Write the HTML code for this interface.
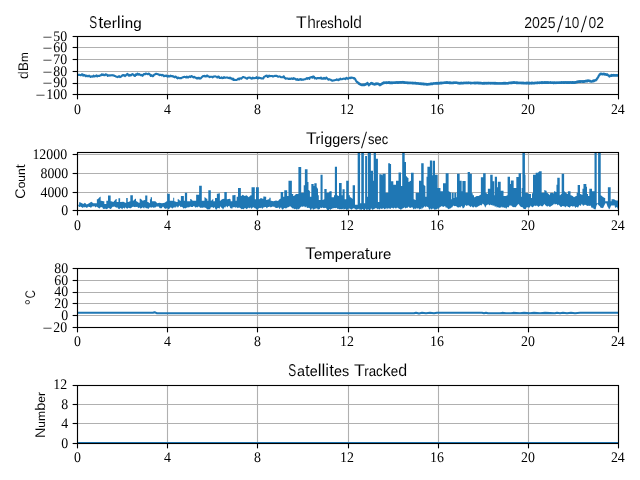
<!DOCTYPE html>
<html><head><meta charset="utf-8"><title>Sterling Threshold 2025/10/02</title>
<style>
html,body{margin:0;padding:0;background:#fff;}
svg{display:block;}
text{text-rendering:geometricPrecision;}
.t{font-family:"Liberation Sans",sans-serif;font-size:16.6px;fill:#000;stroke:#fff;stroke-width:0.12px;}
.yl{font-family:"Liberation Sans",sans-serif;font-size:13.5px;fill:#000;stroke:#fff;stroke-width:0.1px;}
.k{font-family:"Liberation Serif",serif;font-size:14.6px;fill:#000;}
.g{stroke:#b0b0b0;stroke-width:1.11;fill:none;}
.s{stroke:#000;stroke-width:1.11;fill:none;stroke-linecap:square;}
.tk{stroke:#000;stroke-width:1.11;fill:none;}
.d{stroke:#1f77b4;stroke-width:2.08;fill:none;stroke-linejoin:round;stroke-linecap:square;}
</style></head><body>
<svg width="640" height="480" viewBox="0 0 640 480">
<rect width="640" height="480" fill="#fff"/>
<defs>
<clipPath id="c0"><rect x="77.5" y="36.5" width="541.0" height="58.0"/></clipPath>
<clipPath id="c1"><rect x="77.5" y="152.5" width="541.0" height="58.0"/></clipPath>
<clipPath id="c2"><rect x="77.5" y="268.5" width="541.0" height="59.0"/></clipPath>
<clipPath id="c3"><rect x="77.5" y="385.5" width="541.0" height="58.0"/></clipPath>
</defs>
<path class="g" d="M77.50 36.5V94.5"/>
<path class="g" d="M167.50 36.5V94.5"/>
<path class="g" d="M257.50 36.5V94.5"/>
<path class="g" d="M348.50 36.5V94.5"/>
<path class="g" d="M438.50 36.5V94.5"/>
<path class="g" d="M528.50 36.5V94.5"/>
<path class="g" d="M618.50 36.5V94.5"/>
<path class="g" d="M77.5 36.50H618.5"/>
<path class="g" d="M77.5 47.50H618.5"/>
<path class="g" d="M77.5 59.50H618.5"/>
<path class="g" d="M77.5 71.50H618.5"/>
<path class="g" d="M77.5 83.50H618.5"/>
<path class="g" d="M77.5 94.50H618.5"/>
<path class="d" clip-path="url(#c0)" d="M77.75 74.63 L78.54 75.06 L79.33 74.82 L80.12 75.15 L80.92 75.18 L81.71 74.39 L82.50 74.32 L83.25 75.60 L84.00 74.91 L84.75 75.00 L85.50 76.19 L86.25 75.58 L86.98 76.22 L87.71 75.84 L88.44 76.19 L89.17 75.64 L89.90 76.44 L90.62 76.89 L91.35 76.37 L92.08 76.63 L92.81 76.49 L93.54 75.60 L94.27 76.53 L95.00 76.25 L95.75 75.77 L96.50 75.32 L97.25 76.41 L98.00 75.79 L98.75 76.06 L99.53 75.94 L100.31 75.36 L101.09 75.31 L101.88 74.23 L102.60 74.90 L103.33 74.51 L104.06 75.30 L104.79 75.32 L105.52 74.33 L106.25 74.49 L107.00 74.70 L107.75 75.85 L108.50 75.21 L109.25 75.58 L110.00 75.22 L110.75 75.46 L111.50 75.24 L112.25 75.14 L113.00 75.42 L113.75 75.37 L114.50 76.07 L115.25 76.00 L116.00 76.60 L116.75 76.75 L117.50 77.19 L118.33 76.78 L119.17 76.11 L120.00 77.13 L120.83 76.73 L121.67 76.11 L122.50 75.10 L123.33 75.51 L124.17 75.01 L125.00 76.09 L125.83 75.35 L126.67 74.57 L127.50 73.89 L128.33 75.29 L129.17 75.77 L130.00 74.80 L130.83 75.50 L131.67 74.67 L132.50 74.01 L133.33 74.54 L134.17 75.54 L135.00 76.02 L135.83 74.45 L136.67 74.83 L137.50 73.61 L138.33 74.56 L139.17 74.01 L140.00 74.78 L140.83 75.21 L141.67 74.84 L142.50 75.82 L143.33 74.57 L144.17 73.95 L145.00 74.39 L145.75 73.54 L146.50 73.73 L147.25 73.97 L148.00 74.20 L148.75 73.52 L150.00 74.61 L150.78 75.86 L151.56 75.18 L152.34 76.17 L153.12 76.18 L153.91 74.92 L154.69 74.51 L155.47 74.06 L156.25 73.70 L157.08 73.93 L157.92 74.17 L158.75 74.54 L159.50 75.17 L160.25 74.73 L161.00 74.80 L161.75 75.38 L162.50 74.88 L163.21 75.15 L163.93 76.28 L164.64 75.82 L165.36 76.03 L166.07 75.46 L166.79 76.20 L167.50 76.61 L168.23 75.74 L168.96 76.50 L169.69 76.44 L170.42 75.55 L171.15 76.26 L171.88 75.95 L172.60 76.50 L173.33 76.29 L174.06 77.04 L174.79 77.33 L175.52 76.58 L176.25 76.88 L176.96 77.87 L177.68 78.40 L178.39 77.53 L179.11 77.94 L179.82 78.25 L180.54 78.00 L181.25 78.18 L182.08 77.65 L182.92 77.28 L183.75 77.13 L184.50 76.77 L185.25 76.93 L186.00 77.53 L186.75 76.54 L187.50 77.35 L188.25 77.43 L189.00 76.68 L189.75 76.41 L190.50 77.08 L191.25 76.13 L192.00 76.31 L192.75 76.91 L193.50 77.53 L194.25 76.94 L195.00 77.50 L195.71 77.61 L196.43 78.40 L197.14 77.93 L197.86 78.60 L198.57 77.73 L199.29 78.06 L200.00 78.59 L200.75 78.49 L201.50 77.46 L202.25 76.72 L203.00 76.14 L203.75 76.29 L204.50 75.74 L205.25 76.53 L206.00 76.50 L206.75 75.51 L207.50 75.57 L208.25 76.58 L209.00 76.62 L209.75 77.13 L210.50 76.76 L211.25 76.73 L212.00 76.81 L212.75 77.36 L213.50 76.48 L214.25 76.43 L215.00 76.38 L215.75 76.54 L216.50 76.67 L217.25 77.54 L218.00 76.62 L218.75 76.56 L219.50 77.92 L220.25 77.88 L221.00 78.08 L221.75 77.36 L222.50 78.13 L223.25 78.05 L224.00 77.01 L224.75 77.69 L225.50 77.77 L226.25 77.48 L227.03 77.59 L227.81 77.58 L228.59 77.96 L229.38 78.12 L230.00 77.52 L230.75 78.50 L231.50 78.33 L232.25 79.31 L233.00 78.49 L233.75 79.94 L234.50 79.65 L235.25 79.97 L236.00 79.93 L236.75 79.93 L237.50 79.48 L238.25 78.52 L239.00 79.37 L239.75 78.39 L240.50 78.39 L241.25 78.73 L242.08 77.87 L242.92 77.05 L243.75 77.11 L244.58 77.41 L245.42 77.78 L246.25 78.40 L247.08 78.76 L247.92 77.72 L248.75 77.65 L249.58 77.46 L250.42 77.66 L251.25 78.55 L252.00 78.74 L252.75 77.64 L253.50 78.31 L254.25 78.29 L255.00 77.93 L255.75 78.08 L256.50 77.06 L257.25 78.06 L258.00 78.51 L258.75 77.49 L259.50 77.88 L260.25 77.95 L261.00 78.39 L261.75 78.32 L262.50 78.46 L263.25 78.44 L264.00 76.90 L264.75 76.53 L265.50 76.18 L266.25 75.72 L266.96 75.65 L267.68 76.91 L268.39 76.75 L269.11 75.67 L269.82 76.25 L270.54 75.99 L271.25 75.99 L272.03 76.04 L272.81 76.46 L273.59 76.37 L274.38 76.06 L275.16 75.82 L275.94 76.01 L276.72 75.72 L277.50 76.33 L278.25 76.80 L279.00 76.58 L279.75 76.41 L280.50 76.80 L281.25 77.32 L282.08 77.31 L282.92 77.23 L283.75 76.33 L284.69 77.92 L285.62 78.67 L286.35 78.45 L287.08 78.40 L287.81 78.62 L288.54 78.95 L289.27 78.60 L290.00 79.02 L290.71 78.70 L291.43 78.39 L292.14 78.80 L292.86 79.02 L293.57 78.15 L294.29 78.64 L295.00 78.65 L295.71 79.42 L296.43 79.65 L297.14 79.00 L297.86 79.88 L298.57 79.87 L299.29 79.27 L300.00 79.70 L300.75 79.07 L301.50 79.89 L302.25 79.53 L303.00 79.69 L303.75 79.41 L304.45 79.17 L305.16 79.20 L305.86 78.90 L306.56 78.19 L307.27 78.81 L307.97 77.93 L308.67 78.06 L309.38 78.88 L310.00 77.49 L310.78 77.24 L311.56 76.94 L312.34 77.72 L313.12 76.43 L313.96 76.75 L314.79 78.44 L315.62 77.97 L316.46 78.65 L317.29 78.08 L318.12 77.97 L318.85 78.30 L319.58 77.94 L320.31 78.42 L321.04 77.52 L321.77 78.71 L322.50 78.52 L323.25 78.73 L324.00 77.80 L324.75 78.62 L325.50 78.81 L326.25 77.51 L327.00 78.25 L327.75 78.96 L328.50 79.71 L329.25 79.26 L330.00 79.55 L330.75 79.77 L331.50 80.41 L332.25 80.73 L333.00 80.35 L333.75 80.44 L334.50 80.31 L335.25 80.07 L336.00 79.99 L336.75 79.34 L337.50 79.75 L338.21 80.27 L338.93 79.34 L339.64 79.67 L340.36 78.70 L341.07 79.30 L341.79 79.25 L342.50 78.99 L343.21 78.72 L343.93 78.62 L344.64 78.79 L345.36 79.09 L346.07 77.99 L346.79 77.86 L347.50 78.72 L348.33 78.75 L349.17 77.98 L350.00 77.67 L350.73 78.16 L351.46 77.52 L352.19 77.74 L352.92 77.75 L353.65 78.39 L354.38 78.12 L355.12 78.95 L355.88 80.54 L356.62 81.86 L357.38 81.89 L358.12 82.74 L358.54 83.65 L358.96 83.12 L359.38 84.11 L359.79 83.67 L360.21 84.44 L360.62 84.14 L361.04 84.92 L361.46 84.48 L361.88 85.26 L362.32 84.66 L362.77 85.23 L363.21 84.49 L363.66 85.11 L364.11 84.37 L364.55 85.12 L365.00 84.39 L365.42 84.81 L365.83 83.80 L366.25 84.35 L366.67 83.32 L367.08 83.73 L367.50 82.74 L367.92 84.17 L368.33 84.06 L368.75 85.39 L369.17 84.25 L369.58 84.71 L370.00 83.79 L370.42 84.03 L370.83 83.05 L371.25 83.50 L371.70 82.86 L372.14 83.90 L372.59 83.38 L373.04 84.11 L373.48 83.73 L373.93 84.46 L374.38 83.99 L374.82 84.67 L375.27 83.70 L375.71 84.28 L376.16 83.46 L376.61 84.05 L377.05 83.30 L377.50 83.89 L377.92 83.51 L378.33 84.25 L378.75 83.84 L379.17 84.79 L379.58 84.44 L380.00 85.36 L380.42 84.37 L380.83 84.73 L381.25 83.95 L381.67 84.32 L382.08 83.42 L382.50 83.77 L382.92 82.89 L383.33 83.44 L383.75 82.44 L384.15 83.08 L384.55 82.46 L384.96 82.98 L385.36 82.30 L385.76 82.91 L386.16 82.22 L386.56 83.05 L386.96 82.36 L387.37 83.03 L387.77 82.26 L388.17 82.95 L388.57 82.14 L388.97 82.81 L389.38 82.12 L390.00 83.25 L390.42 82.44 L390.83 83.11 L391.25 82.41 L391.67 83.22 L392.08 82.37 L392.50 83.07 L392.92 82.45 L393.33 83.01 L393.75 82.35 L394.17 83.01 L394.58 82.22 L395.00 82.93 L395.42 82.28 L395.83 82.90 L396.25 82.13 L396.67 82.75 L397.08 82.04 L397.50 82.82 L397.92 82.18 L398.33 82.85 L398.75 82.14 L399.17 82.68 L399.58 81.98 L400.00 82.71 L400.42 81.98 L400.83 82.69 L401.25 81.97 L401.67 82.58 L402.08 82.00 L402.50 82.49 L402.92 81.91 L403.33 82.73 L403.75 82.03 L404.17 82.81 L404.58 82.15 L405.00 82.78 L405.42 82.23 L405.83 83.00 L406.25 82.39 L406.67 83.01 L407.08 82.43 L407.50 83.15 L407.92 82.49 L408.33 83.13 L408.75 82.56 L409.17 83.24 L409.58 82.51 L410.00 83.23 L410.42 82.53 L410.83 83.21 L411.25 82.69 L411.67 83.24 L412.08 82.76 L412.50 83.43 L412.92 82.65 L413.33 83.32 L413.75 82.81 L414.17 83.41 L414.58 82.72 L415.00 83.53 L415.42 82.77 L415.83 83.57 L416.25 82.99 L416.67 83.61 L417.08 83.06 L417.50 83.72 L417.92 83.06 L418.33 83.73 L418.75 83.22 L419.17 83.94 L419.58 83.35 L420.00 84.03 L420.42 83.24 L420.83 84.15 L421.25 83.44 L421.67 84.14 L422.08 83.48 L422.50 84.24 L422.92 83.47 L423.33 84.34 L423.75 83.71 L424.17 84.46 L424.58 83.75 L425.00 84.49 L425.42 83.78 L425.83 84.43 L426.25 83.85 L426.67 84.67 L427.08 84.00 L427.50 84.72 L427.92 83.99 L428.33 84.53 L428.75 83.86 L429.17 84.38 L429.58 83.75 L430.00 84.40 L430.42 83.64 L430.83 84.26 L431.25 83.41 L431.67 84.22 L432.08 83.48 L432.50 84.08 L432.92 83.25 L433.33 83.79 L433.75 83.19 L434.17 83.75 L434.58 83.21 L435.00 83.77 L435.42 82.97 L435.83 83.67 L436.25 82.93 L436.67 83.71 L437.08 83.04 L437.50 83.69 L437.92 82.89 L438.33 83.66 L438.75 82.81 L439.17 83.57 L439.58 82.85 L440.00 83.53 L440.42 82.65 L440.83 83.46 L441.25 82.68 L441.67 83.35 L442.08 82.58 L442.50 83.12 L442.92 82.60 L443.33 83.03 L443.75 82.48 L444.17 82.97 L444.58 82.33 L445.00 83.01 L445.42 82.24 L445.83 82.86 L446.25 82.13 L446.67 82.82 L447.08 82.22 L447.50 82.97 L447.92 82.28 L448.33 82.89 L448.75 82.22 L449.17 83.06 L449.58 82.39 L450.00 83.03 L450.42 82.41 L450.83 83.13 L451.25 82.52 L451.67 83.05 L452.08 82.58 L452.50 83.28 L452.92 82.56 L453.33 83.08 L453.75 82.42 L454.17 82.90 L454.58 82.30 L455.00 82.82 L455.42 82.30 L455.83 82.86 L456.25 82.44 L456.67 83.01 L457.08 82.48 L457.50 83.11 L457.92 82.71 L458.33 83.33 L458.75 82.75 L459.17 83.51 L459.58 82.95 L460.00 83.57 L460.42 82.90 L460.83 83.42 L461.25 82.71 L461.67 83.40 L462.08 82.85 L462.50 83.39 L462.92 82.77 L463.33 83.37 L463.75 82.67 L464.17 83.19 L464.58 82.67 L465.00 83.26 L465.44 82.58 L465.88 83.25 L466.31 82.51 L466.75 83.26 L467.19 82.52 L467.62 83.08 L468.06 82.50 L468.50 83.18 L468.94 82.40 L469.38 83.05 L470.00 82.88 L470.42 83.49 L470.83 82.65 L471.25 83.43 L471.67 82.83 L472.08 83.27 L472.50 82.78 L472.92 83.27 L473.33 82.76 L473.75 83.21 L474.17 82.59 L474.58 83.37 L475.00 82.65 L475.42 83.35 L475.83 82.56 L476.25 83.28 L476.67 82.47 L477.08 83.36 L477.50 82.72 L477.92 83.27 L478.33 82.64 L478.75 83.46 L479.17 82.81 L479.58 83.37 L480.00 82.68 L480.42 83.38 L480.83 82.84 L481.25 83.48 L481.67 82.82 L482.08 83.66 L482.50 82.99 L482.92 83.63 L483.33 82.84 L483.75 83.64 L484.17 82.87 L484.58 83.64 L485.00 82.89 L485.42 83.51 L485.83 82.91 L486.25 83.58 L486.67 82.83 L487.08 83.44 L487.50 82.89 L487.92 83.53 L488.33 82.77 L488.75 83.51 L489.17 82.82 L489.58 83.48 L490.00 82.89 L490.42 83.54 L490.83 82.94 L491.25 83.51 L491.67 82.79 L492.08 83.57 L492.50 82.95 L492.92 83.49 L493.33 82.80 L493.75 83.59 L494.17 82.81 L494.58 83.66 L495.00 82.92 L495.42 83.69 L495.83 82.88 L496.25 83.58 L496.67 82.98 L497.08 83.53 L497.50 82.99 L497.92 83.75 L498.33 83.07 L498.75 83.68 L499.17 83.08 L499.58 83.58 L500.00 82.98 L500.42 83.64 L500.83 83.13 L501.25 83.63 L501.67 83.00 L502.08 83.72 L502.50 83.12 L502.92 83.62 L503.33 82.89 L503.75 83.60 L504.17 82.97 L504.58 83.63 L505.00 82.90 L505.42 83.65 L505.83 82.88 L506.25 83.62 L506.67 83.00 L507.08 83.52 L507.50 83.01 L507.92 83.61 L508.33 82.90 L508.75 83.33 L509.17 82.61 L509.58 83.27 L510.00 82.52 L510.42 83.14 L510.83 82.52 L511.25 83.08 L511.67 82.34 L512.08 83.06 L512.50 82.28 L512.92 83.00 L513.33 82.13 L513.75 82.80 L514.17 82.16 L514.58 82.88 L515.00 82.33 L515.42 83.01 L515.83 82.27 L516.25 83.06 L516.67 82.40 L517.08 83.05 L517.50 82.40 L517.92 83.14 L518.33 82.53 L518.75 83.10 L519.17 82.49 L519.58 83.09 L520.00 82.53 L520.42 83.28 L520.83 82.59 L521.25 83.30 L521.67 82.58 L522.08 83.23 L522.50 82.67 L522.92 83.44 L523.33 82.71 L523.75 83.35 L524.17 82.80 L524.58 83.33 L525.00 82.81 L525.42 83.53 L525.83 82.72 L526.25 83.55 L526.67 82.68 L527.08 83.49 L527.50 82.69 L527.92 83.47 L528.33 82.81 L528.75 83.56 L529.17 82.70 L529.58 83.56 L530.00 82.79 L530.42 83.52 L530.83 82.81 L531.25 83.57 L531.67 82.69 L532.08 83.42 L532.50 82.69 L532.92 83.37 L533.33 82.83 L533.75 83.44 L534.17 82.73 L534.58 83.34 L535.00 82.61 L535.42 83.18 L535.83 82.53 L536.25 83.19 L536.67 82.55 L537.08 83.15 L537.50 82.43 L537.92 83.19 L538.33 82.49 L538.75 83.00 L539.17 82.44 L539.58 83.03 L540.00 82.46 L540.42 82.94 L540.83 82.27 L541.25 83.03 L541.67 82.19 L542.08 83.06 L542.50 82.18 L542.92 82.89 L543.33 82.31 L543.75 82.85 L544.17 82.20 L544.58 82.86 L545.00 82.15 L545.44 82.81 L545.88 82.08 L546.31 82.79 L546.75 82.17 L547.19 82.92 L547.62 82.09 L548.06 82.79 L548.50 82.22 L548.94 82.91 L549.38 82.27 L550.00 82.75 L550.42 82.17 L550.83 82.88 L551.25 82.29 L551.67 82.80 L552.08 82.31 L552.50 83.00 L552.92 82.29 L553.33 83.08 L553.75 82.25 L554.17 83.11 L554.58 82.45 L555.00 82.97 L555.42 82.49 L555.83 83.06 L556.25 82.45 L556.67 82.97 L557.08 82.37 L557.50 82.95 L557.92 82.39 L558.33 82.95 L558.75 82.24 L559.17 82.95 L559.58 82.33 L560.00 82.83 L560.42 82.26 L560.83 82.93 L561.25 82.17 L561.67 82.96 L562.08 82.11 L562.50 82.78 L562.92 82.24 L563.33 82.90 L563.75 82.10 L564.17 82.84 L564.58 82.09 L565.00 82.85 L565.42 82.21 L565.83 82.76 L566.25 82.27 L566.67 82.87 L567.08 82.07 L567.50 82.93 L567.92 82.17 L568.33 82.87 L568.75 82.07 L569.17 82.91 L569.58 82.14 L570.00 82.82 L570.42 82.16 L570.83 82.76 L571.25 82.23 L571.67 82.88 L572.08 82.05 L572.50 82.85 L572.92 82.18 L573.33 82.80 L573.75 82.17 L574.17 82.91 L574.58 82.17 L575.00 82.94 L575.42 82.13 L575.83 82.57 L576.25 81.82 L576.67 82.37 L577.08 81.53 L577.50 82.24 L577.92 81.29 L578.33 81.97 L578.75 81.27 L579.17 81.85 L579.58 81.15 L580.00 81.83 L580.42 81.21 L580.83 81.88 L581.25 81.07 L581.67 81.75 L582.08 81.12 L582.50 81.81 L582.92 81.16 L583.33 81.93 L583.75 81.06 L584.17 81.80 L584.58 81.09 L585.00 81.71 L585.42 80.94 L585.83 81.45 L586.25 80.65 L586.67 81.29 L587.08 80.63 L587.50 81.28 L587.92 80.33 L588.33 80.99 L588.75 80.31 L589.17 81.06 L589.58 80.66 L590.00 81.34 L590.42 80.76 L590.83 81.60 L591.25 81.22 L591.67 81.64 L592.08 81.01 L592.50 81.47 L592.92 80.61 L593.33 81.29 L593.75 80.38 L594.17 81.03 L594.58 80.27 L595.00 80.66 L595.42 79.81 L595.83 80.37 L596.25 79.71 L596.67 79.67 L597.08 78.38 L597.50 78.35 L597.92 77.10 L598.33 76.94 L598.75 75.56 L599.17 75.59 L599.58 74.24 L600.00 74.27 L600.42 73.55 L600.83 74.38 L601.25 73.63 L601.67 74.26 L602.08 73.76 L602.50 74.40 L602.92 73.74 L603.33 74.27 L603.75 73.59 L604.17 74.51 L604.58 73.93 L605.00 74.69 L605.42 73.99 L605.83 74.73 L606.25 74.25 L606.67 74.90 L607.08 74.22 L607.50 75.04 L607.97 74.87 L608.44 75.76 L608.91 75.62 L609.38 76.55 L609.84 75.60 L610.31 76.05 L610.78 75.33 L611.25 75.81 L611.65 74.93 L612.06 75.82 L612.46 75.09 L612.86 75.68 L613.26 74.94 L613.67 75.71 L614.07 74.99 L614.47 75.67 L614.88 75.15 L615.28 75.68 L615.68 74.98 L616.08 75.78 L616.49 75.02 L616.89 75.70 L617.29 75.03 L617.69 75.70 L618.10 75.03 L618.50 75.38"/>
<path class="tk" d="M77.50 94.5v4.86"/>
<text class="k" x="77.40" y="113.70" text-anchor="middle" textLength="6.94" lengthAdjust="spacingAndGlyphs">0</text>
<path class="tk" d="M167.50 94.5v4.86"/>
<text class="k" x="167.40" y="113.70" text-anchor="middle" textLength="6.94" lengthAdjust="spacingAndGlyphs">4</text>
<path class="tk" d="M257.50 94.5v4.86"/>
<text class="k" x="257.40" y="113.70" text-anchor="middle" textLength="6.94" lengthAdjust="spacingAndGlyphs">8</text>
<path class="tk" d="M348.50 94.5v4.86"/>
<text class="k" x="346.90" y="113.70" text-anchor="middle" textLength="13.88" lengthAdjust="spacingAndGlyphs">12</text>
<path class="tk" d="M438.50 94.5v4.86"/>
<text class="k" x="436.90" y="113.70" text-anchor="middle" textLength="13.88" lengthAdjust="spacingAndGlyphs">16</text>
<path class="tk" d="M528.50 94.5v4.86"/>
<text class="k" x="528.00" y="113.70" text-anchor="middle" textLength="13.88" lengthAdjust="spacingAndGlyphs">20</text>
<path class="tk" d="M618.50 94.5v4.86"/>
<text class="k" x="617.85" y="113.70" text-anchor="middle" textLength="13.88" lengthAdjust="spacingAndGlyphs">24</text>
<path class="tk" d="M77.5 36.50h-4.86"/>
<text class="k"><tspan x="42.52" y="41.85" textLength="9.90" lengthAdjust="spacingAndGlyphs">−</tspan><tspan x="53.22" y="40.85" textLength="13.88" lengthAdjust="spacingAndGlyphs">50</tspan></text>
<path class="tk" d="M77.5 47.50h-4.86"/>
<text class="k"><tspan x="42.52" y="52.85" textLength="9.90" lengthAdjust="spacingAndGlyphs">−</tspan><tspan x="53.22" y="51.85" textLength="13.88" lengthAdjust="spacingAndGlyphs">60</tspan></text>
<path class="tk" d="M77.5 59.50h-4.86"/>
<text class="k"><tspan x="42.52" y="64.85" textLength="9.90" lengthAdjust="spacingAndGlyphs">−</tspan><tspan x="53.22" y="63.85" textLength="13.88" lengthAdjust="spacingAndGlyphs">70</tspan></text>
<path class="tk" d="M77.5 71.50h-4.86"/>
<text class="k"><tspan x="42.52" y="76.85" textLength="9.90" lengthAdjust="spacingAndGlyphs">−</tspan><tspan x="53.22" y="75.85" textLength="13.88" lengthAdjust="spacingAndGlyphs">80</tspan></text>
<path class="tk" d="M77.5 83.50h-4.86"/>
<text class="k"><tspan x="42.52" y="87.85" textLength="9.90" lengthAdjust="spacingAndGlyphs">−</tspan><tspan x="53.22" y="86.85" textLength="13.88" lengthAdjust="spacingAndGlyphs">90</tspan></text>
<path class="tk" d="M77.5 94.50h-4.86"/>
<text class="k"><tspan x="35.58" y="99.85" textLength="9.90" lengthAdjust="spacingAndGlyphs">−</tspan><tspan x="46.28" y="98.85" textLength="20.82" lengthAdjust="spacingAndGlyphs">100</tspan></text>
<rect class="s" x="77.5" y="36.5" width="541.0" height="58.0"/>
<path class="g" d="M77.50 152.5V210.5"/>
<path class="g" d="M167.50 152.5V210.5"/>
<path class="g" d="M257.50 152.5V210.5"/>
<path class="g" d="M348.50 152.5V210.5"/>
<path class="g" d="M438.50 152.5V210.5"/>
<path class="g" d="M528.50 152.5V210.5"/>
<path class="g" d="M618.50 152.5V210.5"/>
<path class="g" d="M77.5 210.50H618.5"/>
<path class="g" d="M77.5 192.50H618.5"/>
<path class="g" d="M77.5 173.50H618.5"/>
<path class="g" d="M77.5 154.50H618.5"/>
<path fill="#1f77b4" clip-path="url(#c1)" d="M78.27 204.67 L79.13 204.67 L79.13 202.27 L80.00 202.27 L82.00 203.33 L83.33 204.00 L84.93 202.67 L86.67 204.40 L88.67 203.60 L91.33 201.73 L93.33 203.33 L96.00 203.33 L96.87 203.33 L96.87 199.33 L97.73 199.33 L100.00 196.67 L100.67 196.67 L100.67 200.67 L101.33 200.67 L103.33 201.33 L104.33 201.33 L104.33 204.00 L105.33 204.00 L106.33 204.00 L106.33 200.67 L107.33 200.67 L108.00 200.67 L108.00 195.60 L108.67 195.60 L110.00 195.60 L110.67 195.60 L110.67 201.33 L111.33 201.33 L113.33 202.00 L116.00 199.07 L116.67 199.07 L116.67 202.00 L117.33 202.00 L118.47 202.00 L118.47 198.27 L119.60 198.27 L120.13 198.27 L120.13 202.00 L120.67 202.00 L123.33 201.73 L125.33 202.67 L126.20 202.67 L126.20 198.00 L127.07 198.00 L127.73 198.00 L127.73 202.00 L128.40 202.00 L130.00 201.33 L130.33 201.33 L130.33 195.33 L130.67 195.33 L132.40 195.33 L132.87 195.33 L132.87 200.67 L133.33 200.67 L135.33 198.67 L136.00 198.67 L136.00 201.33 L136.67 201.33 L138.67 202.67 L139.67 202.67 L139.67 198.67 L140.67 198.67 L142.67 200.67 L144.67 200.00 L145.20 200.00 L145.20 195.60 L145.73 195.60 L146.67 195.60 L147.33 195.60 L147.33 202.00 L148.00 202.00 L149.87 203.33 L149.93 203.33 L149.93 199.33 L150.00 199.33 L150.67 199.33 L150.67 197.33 L151.33 197.33 L152.00 197.33 L152.00 201.33 L152.67 201.33 L155.33 201.33 L157.33 203.33 L159.33 202.67 L162.00 203.33 L164.67 202.67 L166.67 201.33 L167.13 201.33 L167.13 193.73 L167.60 193.73 L169.33 193.73 L169.80 193.73 L169.80 200.67 L170.27 200.67 L172.67 200.67 L173.20 200.67 L173.20 197.73 L173.73 197.73 L174.20 197.73 L174.20 201.33 L174.67 201.33 L176.67 202.00 L177.67 202.00 L177.67 199.33 L178.67 199.33 L180.00 200.67 L180.87 200.67 L180.87 196.00 L181.73 196.00 L183.33 196.00 L183.87 196.00 L183.87 200.67 L184.40 200.67 L184.87 200.67 L184.87 192.67 L185.33 192.67 L186.67 192.67 L187.13 192.67 L187.13 201.33 L187.60 201.33 L189.33 201.33 L190.20 201.33 L190.20 199.07 L191.07 199.07 L192.67 200.67 L195.33 200.67 L196.13 200.67 L196.13 194.67 L196.93 194.67 L198.67 194.67 L199.13 194.67 L199.13 185.73 L199.60 185.73 L201.33 185.73 L201.80 185.73 L201.80 200.67 L202.27 200.67 L204.00 200.67 L204.47 200.67 L204.47 197.33 L204.93 197.33 L206.67 198.67 L207.33 198.67 L207.33 200.67 L208.00 200.67 L208.33 200.67 L208.33 190.27 L208.67 190.27 L210.27 190.27 L210.80 190.27 L210.80 200.67 L211.33 200.67 L212.67 199.33 L213.33 199.33 L213.33 201.33 L214.00 201.33 L215.00 201.33 L215.00 198.00 L216.00 198.00 L216.87 198.00 L216.87 193.73 L217.73 193.73 L219.33 193.33 L219.87 193.33 L219.87 200.67 L220.40 200.67 L222.00 199.33 L224.00 198.67 L224.33 198.67 L224.33 192.00 L224.67 192.00 L226.27 192.00 L226.80 192.00 L226.80 199.33 L227.33 199.33 L229.87 198.67 L230.00 199.33 L230.67 199.33 L230.67 201.33 L231.33 201.33 L232.33 201.33 L232.33 195.33 L233.33 195.33 L235.07 195.07 L235.53 195.07 L235.53 200.67 L236.00 200.67 L236.67 200.67 L236.67 196.67 L237.33 196.67 L238.00 196.67 L238.00 188.00 L238.67 188.00 L240.40 188.00 L240.87 188.00 L240.87 196.00 L241.33 196.00 L242.67 194.67 L244.67 196.00 L246.67 195.33 L248.67 197.33 L250.67 195.33 L251.53 195.33 L251.53 187.33 L252.40 187.33 L254.27 187.33 L254.80 187.33 L254.80 199.33 L255.33 199.33 L256.00 199.33 L256.00 187.33 L256.67 187.33 L258.40 187.33 L258.87 187.33 L258.87 199.33 L259.33 199.33 L260.93 198.00 L262.67 198.67 L263.33 198.67 L263.33 196.40 L264.00 196.40 L265.73 196.67 L266.20 196.67 L266.20 200.00 L266.67 200.00 L268.67 199.33 L269.33 199.33 L269.33 197.73 L270.00 197.73 L270.67 197.73 L270.67 200.67 L271.33 200.67 L273.33 201.33 L276.00 200.40 L278.00 200.93 L280.00 198.67 L280.67 198.67 L280.67 192.00 L281.33 192.00 L282.67 192.00 L283.13 192.00 L283.13 196.67 L283.60 196.67 L284.27 196.67 L284.27 190.27 L284.93 190.27 L286.67 190.27 L287.13 190.27 L287.13 196.00 L287.60 196.00 L288.47 196.00 L288.47 180.67 L289.33 180.67 L291.33 180.67 L291.87 180.67 L291.87 194.00 L292.40 194.00 L293.20 194.00 L293.20 196.00 L294.00 196.00 L296.00 194.00 L297.73 194.00 L298.40 194.00 L298.40 167.07 L299.07 167.07 L300.67 167.07 L301.20 167.07 L301.20 192.67 L301.73 192.67 L303.07 192.67 L303.73 192.67 L303.73 185.33 L304.40 185.33 L304.87 185.33 L304.87 169.33 L305.33 169.33 L307.07 169.33 L307.53 169.33 L307.53 182.00 L308.00 182.00 L308.47 182.00 L308.47 190.00 L308.93 190.00 L309.87 191.33 L309.93 191.33 L309.93 196.67 L310.00 196.67 L311.07 196.67 L311.33 196.67 L311.33 184.00 L311.60 184.00 L313.33 184.00 L313.67 184.00 L313.67 186.00 L314.00 186.00 L314.33 186.00 L314.33 183.33 L314.67 183.33 L316.40 183.33 L316.67 183.33 L316.67 187.33 L316.93 187.33 L317.73 188.67 L318.00 188.67 L318.00 195.33 L318.27 195.33 L318.80 195.33 L318.80 200.00 L319.33 200.00 L320.40 200.00 L320.53 200.00 L320.53 174.67 L320.67 174.67 L322.27 174.67 L322.60 174.67 L322.60 200.00 L322.93 200.00 L324.00 199.33 L324.33 199.33 L324.33 188.93 L324.67 188.93 L326.27 188.93 L326.67 188.93 L326.67 192.67 L327.07 192.67 L328.67 192.67 L329.73 191.33 L331.33 191.33 L331.67 191.33 L331.67 197.33 L332.00 197.33 L333.33 197.33 L334.00 197.33 L334.00 195.33 L334.67 195.33 L334.87 195.33 L334.87 166.67 L335.07 166.67 L336.67 166.67 L337.00 166.67 L337.00 195.33 L337.33 195.33 L338.67 196.00 L339.00 196.00 L339.00 183.07 L339.33 183.07 L341.33 183.07 L341.67 183.07 L341.67 195.33 L342.00 195.33 L342.53 195.33 L342.53 189.33 L343.07 189.33 L344.40 189.33 L344.67 189.33 L344.67 199.33 L344.93 199.33 L346.00 199.33 L346.20 199.33 L346.20 180.67 L346.40 180.67 L348.40 180.67 L348.73 180.67 L348.73 195.33 L349.07 195.33 L349.87 195.33 L349.87 197.33 L350.67 197.33 L352.40 198.67 L352.67 198.67 L352.67 185.33 L352.93 185.33 L354.67 185.33 L355.00 185.33 L355.00 204.67 L355.33 204.67 L357.33 204.67 L357.67 204.67 L357.67 151.33 L358.00 151.33 L359.73 151.33 L360.07 151.33 L360.07 203.33 L360.40 203.33 L361.07 203.33 L361.27 203.33 L361.27 151.33 L361.47 151.33 L363.60 151.33 L363.87 151.33 L363.87 203.33 L364.13 203.33 L364.93 203.33 L365.13 203.33 L365.13 156.00 L365.33 156.00 L366.67 156.00 L367.00 156.00 L367.00 196.67 L367.33 196.67 L367.73 196.67 L367.73 151.33 L368.13 151.33 L370.67 151.33 L370.87 151.33 L370.87 170.67 L371.07 170.67 L372.67 170.67 L373.00 170.67 L373.00 180.67 L373.33 180.67 L373.67 180.67 L373.67 151.33 L374.00 151.33 L375.60 151.33 L375.93 151.33 L375.93 158.67 L376.27 158.67 L377.60 158.67 L377.93 158.67 L377.93 202.00 L378.27 202.00 L379.07 202.00 L379.33 202.00 L379.33 174.27 L379.60 174.27 L381.33 174.27 L382.00 175.33 L382.53 175.33 L382.53 173.73 L383.07 173.73 L385.33 173.73 L385.67 173.73 L385.67 192.67 L386.00 192.67 L388.00 192.67 L388.20 192.67 L388.20 163.33 L388.40 163.33 L389.87 163.33 L390.00 164.00 L390.80 164.00 L391.07 164.00 L391.07 181.33 L391.33 181.33 L392.93 181.33 L393.33 181.33 L393.33 184.67 L393.73 184.67 L395.60 184.67 L396.00 184.67 L396.00 180.67 L396.40 180.67 L398.27 180.67 L398.53 180.67 L398.53 172.40 L398.80 172.40 L400.67 172.40 L401.00 172.40 L401.00 186.00 L401.33 186.00 L402.00 186.00 L402.20 186.00 L402.20 152.93 L402.40 152.93 L404.40 152.93 L404.67 152.93 L404.67 162.00 L404.93 162.00 L405.73 162.00 L406.00 162.00 L406.00 176.00 L406.27 176.00 L408.00 178.00 L408.47 178.00 L408.47 182.00 L408.93 182.00 L410.67 180.67 L411.00 180.67 L411.00 172.67 L411.33 172.67 L413.33 172.67 L413.67 172.67 L413.67 199.33 L414.00 199.33 L415.33 200.00 L415.67 200.00 L415.67 192.67 L416.00 192.67 L418.67 192.67 L419.00 192.67 L419.00 180.67 L419.33 180.67 L420.93 180.67 L421.20 180.67 L421.20 163.33 L421.47 163.33 L423.33 163.33 L423.67 163.33 L423.67 184.67 L424.00 184.67 L424.93 186.00 L425.33 186.00 L425.33 196.67 L425.73 196.67 L426.27 196.67 L426.53 196.67 L426.53 176.67 L426.80 176.67 L427.40 176.67 L427.40 166.67 L428.00 166.67 L429.60 166.67 L429.87 166.67 L429.87 160.40 L430.13 160.40 L431.73 160.40 L432.07 160.40 L432.07 175.33 L432.40 175.33 L432.67 175.33 L432.67 160.67 L432.93 160.67 L434.67 160.67 L435.00 160.67 L435.00 174.67 L435.33 174.67 L437.33 174.67 L437.67 174.67 L437.67 188.00 L438.00 188.00 L440.00 188.00 L440.47 188.00 L440.47 191.33 L440.93 191.33 L442.67 191.33 L443.00 191.33 L443.00 183.33 L443.33 183.33 L445.33 183.33 L445.67 183.33 L445.67 173.33 L446.00 173.33 L448.27 173.33 L448.60 173.33 L448.60 191.33 L448.93 191.33 L450.67 192.40 L451.00 192.40 L451.00 199.33 L451.33 199.33 L451.67 199.33 L451.67 192.67 L452.00 192.67 L453.33 192.67 L453.67 192.67 L453.67 198.00 L454.00 198.00 L454.33 198.00 L454.33 192.67 L454.67 192.67 L456.00 192.67 L456.33 192.67 L456.33 197.33 L456.67 197.33 L457.00 197.33 L457.00 173.73 L457.33 173.73 L459.33 173.73 L459.67 173.73 L459.67 180.67 L460.00 180.67 L461.33 180.67 L461.67 180.67 L461.67 191.33 L462.00 191.33 L462.40 191.33 L462.40 180.93 L462.80 180.93 L465.33 180.93 L465.67 180.93 L465.67 192.67 L466.00 192.67 L467.33 192.67 L467.67 192.67 L467.67 172.00 L468.00 172.00 L469.87 172.00 L469.93 172.00 L469.93 173.73 L470.00 173.73 L471.60 173.73 L471.87 173.73 L471.87 193.33 L472.13 193.33 L472.73 193.33 L472.73 195.33 L473.33 195.33 L474.00 195.33 L474.00 197.33 L474.67 197.33 L476.67 196.00 L478.67 196.00 L480.40 194.67 L480.87 194.67 L480.87 177.33 L481.33 177.33 L482.93 177.33 L483.13 177.33 L483.13 173.33 L483.33 173.33 L485.33 173.33 L485.67 173.33 L485.67 192.67 L486.00 192.67 L487.33 194.00 L487.87 194.00 L487.87 188.67 L488.40 188.67 L490.00 188.67 L490.20 188.67 L490.20 174.67 L490.40 174.67 L492.40 174.67 L492.67 174.67 L492.67 181.33 L492.93 181.33 L494.00 181.33 L494.27 181.33 L494.27 195.33 L494.53 195.33 L494.80 195.33 L494.80 176.67 L495.07 176.67 L496.67 176.67 L497.00 176.67 L497.00 187.33 L497.33 187.33 L497.80 187.33 L497.80 181.73 L498.27 181.73 L500.40 181.73 L500.73 181.73 L500.73 190.67 L501.07 190.67 L503.07 190.67 L503.53 190.67 L503.53 196.00 L504.00 196.00 L506.00 196.00 L507.33 195.33 L507.60 195.33 L507.60 176.67 L507.87 176.67 L509.73 176.67 L510.00 176.67 L510.00 184.00 L510.27 184.00 L510.80 184.00 L510.80 180.40 L511.33 180.40 L513.33 180.40 L513.67 180.40 L513.67 188.00 L514.00 188.00 L516.00 188.00 L516.33 188.00 L516.33 176.93 L516.67 176.93 L518.27 176.93 L518.60 176.93 L518.60 173.33 L518.93 173.33 L520.67 173.33 L521.00 173.33 L521.00 196.67 L521.33 196.67 L521.67 196.67 L521.67 188.00 L522.00 188.00 L522.40 188.00 L522.40 152.93 L522.80 152.93 L524.67 152.93 L524.93 152.93 L524.93 174.67 L525.20 174.67 L525.47 174.67 L525.47 192.67 L525.73 192.67 L527.33 192.67 L528.67 194.00 L530.67 194.00 L531.00 194.00 L531.00 198.00 L531.33 198.00 L532.00 198.00 L532.00 193.33 L532.67 193.33 L533.00 193.33 L533.00 174.67 L533.33 174.67 L535.33 174.67 L535.67 174.67 L535.67 172.67 L536.00 172.67 L538.00 172.67 L538.67 172.00 L539.33 171.33 L541.33 171.33 L541.67 171.33 L541.67 192.67 L542.00 192.67 L544.00 192.67 L544.33 192.67 L544.33 190.00 L544.67 190.00 L546.00 190.67 L546.67 190.67 L546.67 192.67 L547.33 192.67 L549.87 195.33 L549.93 195.33 L549.93 193.33 L550.00 193.33 L552.00 192.67 L553.33 193.33 L554.00 193.33 L554.00 191.33 L554.67 191.33 L556.00 192.00 L556.47 192.00 L556.47 184.67 L556.93 184.67 L557.27 184.67 L557.27 177.73 L557.60 177.73 L559.33 177.73 L559.73 177.73 L559.73 195.33 L560.13 195.33 L561.33 194.00 L561.67 194.00 L561.67 173.73 L562.00 173.73 L563.87 173.73 L564.13 173.73 L564.13 191.33 L564.40 191.33 L566.00 192.67 L567.33 194.00 L567.87 194.00 L567.87 191.33 L568.40 191.33 L570.00 191.33 L570.53 191.33 L570.53 195.33 L571.07 195.33 L572.67 196.00 L574.00 197.33 L576.00 196.00 L576.67 196.00 L576.67 192.67 L577.33 192.67 L577.67 192.67 L577.67 184.93 L578.00 184.93 L579.60 184.93 L580.00 184.93 L580.00 194.00 L580.40 194.00 L582.00 194.67 L582.47 194.67 L582.47 188.67 L582.93 188.67 L583.47 188.67 L583.47 184.00 L584.00 184.00 L586.00 184.00 L586.33 184.00 L586.33 186.67 L586.67 186.67 L587.00 186.67 L587.00 194.00 L587.33 194.00 L588.00 194.00 L588.00 196.00 L588.67 196.00 L589.33 196.00 L589.33 188.67 L590.00 188.67 L591.60 188.67 L592.00 188.67 L592.00 191.33 L592.40 191.33 L594.27 191.33 L594.50 191.33 L594.50 151.33 L594.73 151.33 L596.47 151.33 L596.70 151.33 L596.70 203.33 L596.93 203.33 L597.87 203.33 L598.10 203.33 L598.10 151.33 L598.33 151.33 L600.53 151.33 L600.73 151.33 L600.73 195.33 L600.93 195.33 L602.67 196.67 L604.67 198.00 L605.20 198.00 L605.20 201.33 L605.73 201.33 L607.60 201.33 L607.87 201.33 L607.87 187.33 L608.13 187.33 L610.27 187.33 L610.67 187.33 L610.67 201.33 L611.07 201.33 L611.53 201.33 L611.53 199.33 L612.00 199.33 L614.00 199.33 L616.00 200.40 L618.27 200.40 L618.27 208.67 L617.85 209.36 L617.23 207.48 L616.51 207.10 L615.34 207.91 L614.22 205.11 L613.09 205.82 L612.00 205.25 L611.04 205.71 L610.00 208.31 L609.02 209.45 L608.39 207.78 L607.71 206.94 L606.55 203.81 L605.94 202.76 L604.79 204.62 L603.82 206.62 L603.03 208.18 L602.00 207.63 L600.88 207.92 L599.78 206.26 L598.59 205.20 L597.58 203.86 L596.43 205.73 L595.63 209.60 L594.84 209.31 L593.67 209.03 L592.93 207.35 L592.32 208.20 L591.59 207.78 L590.60 205.42 L589.69 206.07 L588.83 205.55 L588.07 205.90 L586.96 205.86 L585.91 205.07 L585.29 204.84 L584.63 204.76 L583.75 205.70 L582.88 205.50 L581.77 203.80 L580.74 206.02 L579.61 204.97 L578.83 205.93 L578.12 207.40 L577.14 207.21 L576.17 206.72 L575.49 208.29 L574.56 206.15 L573.49 206.14 L572.75 206.83 L571.83 205.95 L570.68 206.28 L569.64 207.73 L568.78 207.09 L567.97 206.90 L566.98 205.69 L566.22 206.55 L565.15 207.58 L564.17 205.88 L563.48 206.20 L562.32 205.96 L561.43 207.04 L560.71 206.96 L559.76 205.71 L558.95 205.04 L558.13 204.41 L557.52 205.53 L556.78 204.02 L555.65 204.28 L554.79 204.56 L554.10 203.54 L553.50 204.38 L552.50 205.35 L551.31 205.92 L550.56 206.60 L549.93 207.00 L549.22 206.39 L548.16 205.80 L547.22 206.83 L546.46 206.11 L545.62 205.42 L544.42 203.99 L543.29 205.46 L542.36 206.45 L541.55 206.24 L540.63 205.43 L539.56 205.95 L538.42 207.05 L537.26 205.76 L536.55 205.40 L535.76 206.33 L535.00 205.58 L533.85 206.12 L533.16 206.90 L532.40 207.17 L531.70 206.95 L530.89 205.53 L529.73 207.27 L529.03 207.64 L527.86 207.23 L526.67 207.29 L525.58 209.13 L524.38 209.08 L523.70 208.94 L522.87 207.55 L522.24 207.22 L521.18 207.09 L520.53 206.51 L519.90 205.88 L519.04 204.46 L518.18 204.05 L517.51 205.11 L516.81 205.67 L515.74 207.23 L515.00 207.25 L514.03 207.03 L513.16 207.28 L512.17 206.41 L511.22 205.61 L510.43 205.41 L509.50 205.58 L508.83 206.91 L508.21 207.48 L507.27 207.03 L506.13 209.03 L505.39 207.39 L504.56 207.90 L503.72 206.88 L503.01 207.92 L501.90 206.56 L501.17 207.40 L500.47 207.48 L499.50 207.66 L498.66 207.70 L498.03 206.73 L496.85 207.74 L496.17 205.98 L494.99 207.02 L494.10 205.26 L492.94 205.88 L492.17 204.86 L491.27 205.14 L490.30 204.38 L489.15 205.43 L488.22 203.92 L487.52 204.80 L486.39 205.20 L485.30 207.76 L484.16 205.09 L483.44 204.28 L482.72 203.60 L481.52 205.60 L480.67 205.12 L479.73 205.49 L478.56 206.06 L477.79 206.67 L476.77 206.64 L476.12 207.68 L475.19 207.05 L474.52 206.26 L473.60 207.78 L472.87 206.64 L472.16 207.38 L471.37 205.83 L470.64 207.16 L469.68 206.13 L468.96 205.51 L468.14 205.25 L467.17 205.58 L466.51 206.01 L465.44 204.80 L464.57 207.00 L463.75 207.97 L462.80 208.38 L462.08 206.39 L461.31 206.08 L460.16 207.65 L459.07 206.68 L458.40 207.73 L457.41 207.21 L456.67 206.45 L455.48 206.06 L454.68 206.36 L453.55 205.56 L452.81 206.14 L452.09 207.58 L451.26 207.62 L450.49 208.61 L449.81 208.56 L448.70 209.29 L447.70 208.55 L446.85 207.27 L445.98 207.89 L445.08 206.09 L444.43 206.13 L443.24 206.99 L442.05 206.36 L441.12 206.18 L440.48 206.97 L439.43 207.39 L438.78 209.00 L437.96 208.37 L437.17 209.00 L436.10 209.48 L435.06 209.43 L434.35 209.71 L433.46 208.61 L432.71 208.52 L431.53 209.77 L430.65 208.18 L430.03 209.74 L429.05 209.21 L428.00 206.67 L427.23 206.98 L426.20 206.35 L425.23 207.39 L424.47 205.90 L423.33 207.71 L422.58 208.70 L421.94 207.26 L421.32 209.35 L420.23 208.66 L419.61 209.78 L418.79 208.29 L417.64 208.69 L416.76 207.82 L415.90 209.37 L414.80 208.16 L414.08 209.37 L413.40 209.23 L412.59 207.60 L411.99 207.20 L411.19 207.45 L410.37 207.89 L409.75 207.91 L408.58 206.39 L407.79 207.83 L406.59 207.66 L405.46 208.60 L404.62 207.18 L403.99 207.69 L402.81 208.45 L401.97 208.73 L400.80 209.90 L399.95 208.67 L399.24 208.99 L398.07 208.08 L397.01 207.49 L396.27 208.51 L395.49 208.53 L394.76 207.59 L393.72 208.49 L393.00 208.42 L392.15 207.87 L391.53 207.78 L390.37 209.04 L389.62 208.56 L388.61 208.60 L388.00 208.10 L386.98 209.41 L386.23 207.72 L385.34 209.03 L384.36 209.19 L383.48 207.96 L382.88 208.77 L382.14 208.49 L381.19 209.02 L380.55 208.28 L379.53 209.68 L378.78 208.55 L378.00 209.59 L376.84 208.53 L375.78 207.98 L374.84 208.78 L373.79 209.12 L372.75 209.89 L371.74 209.10 L371.05 208.28 L370.30 209.90 L369.19 209.90 L368.03 209.19 L367.43 209.63 L366.55 209.90 L365.52 208.40 L364.91 209.90 L363.80 209.90 L362.93 209.21 L362.18 208.93 L361.45 209.90 L360.48 209.44 L359.80 209.90 L359.03 208.47 L358.23 209.16 L357.32 209.16 L356.47 209.79 L355.34 209.25 L354.58 208.43 L353.93 208.58 L353.27 208.17 L352.59 208.67 L351.39 209.82 L350.66 209.01 L349.52 208.52 L348.82 208.52 L347.98 209.48 L347.20 209.76 L346.44 209.90 L345.40 208.75 L344.60 209.03 L343.92 209.90 L343.29 208.46 L342.30 209.36 L341.43 209.21 L340.80 209.10 L339.87 209.47 L338.73 208.65 L337.64 209.07 L336.46 207.87 L335.75 208.35 L334.99 207.97 L333.83 208.34 L332.73 208.21 L332.10 208.75 L331.24 209.12 L330.29 209.90 L329.45 208.92 L328.68 209.90 L327.65 209.90 L326.98 209.64 L325.93 207.66 L324.83 208.22 L324.02 207.73 L323.24 208.31 L322.34 207.22 L321.73 208.20 L320.59 207.53 L319.57 209.23 L318.66 209.31 L317.98 209.77 L317.07 208.21 L316.12 208.60 L314.95 208.75 L314.19 209.18 L313.01 209.85 L312.13 207.97 L310.97 209.90 L310.25 209.66 L309.58 207.95 L308.70 207.83 L307.93 207.98 L306.91 207.71 L306.15 206.17 L305.54 207.14 L304.76 207.33 L304.01 205.83 L303.36 206.75 L302.39 206.79 L301.38 206.57 L300.55 207.29 L299.37 208.82 L298.64 209.40 L297.89 208.47 L297.13 209.74 L296.49 209.41 L295.57 208.83 L294.52 209.22 L293.92 208.39 L292.91 208.44 L291.94 207.99 L290.84 206.62 L290.02 206.41 L289.40 206.42 L288.38 207.29 L287.25 207.55 L286.15 208.51 L285.05 208.31 L284.14 207.90 L283.05 209.46 L282.07 209.52 L280.97 207.32 L279.99 208.52 L279.30 208.89 L278.50 207.34 L277.37 207.94 L276.38 208.07 L275.46 207.75 L274.72 207.17 L274.11 206.62 L273.27 206.77 L272.51 206.60 L271.61 206.99 L270.71 207.55 L269.88 206.46 L269.06 207.10 L267.88 206.90 L266.96 208.52 L265.78 207.11 L264.91 206.98 L264.04 207.39 L263.29 207.46 L262.29 208.88 L261.18 207.49 L260.49 208.13 L259.44 208.11 L258.76 208.32 L257.95 209.39 L256.97 209.90 L255.87 208.44 L254.68 208.34 L253.78 207.23 L252.68 207.59 L251.82 208.41 L251.16 208.75 L250.27 207.22 L249.34 208.53 L248.73 207.54 L248.12 207.90 L247.41 208.41 L246.64 209.18 L245.86 208.39 L245.14 207.99 L244.44 208.30 L243.70 209.40 L243.02 208.84 L241.86 209.18 L241.06 208.76 L239.94 207.63 L238.83 207.39 L237.75 208.35 L236.58 206.92 L235.73 208.14 L235.09 206.71 L234.07 207.60 L232.92 207.02 L232.17 208.75 L231.02 208.26 L230.34 208.15 L229.27 205.75 L228.52 205.90 L227.33 207.40 L226.14 205.81 L225.23 207.65 L224.43 206.96 L223.57 208.83 L222.96 209.69 L222.17 208.10 L221.36 207.73 L220.51 206.13 L219.41 208.68 L218.51 207.98 L217.34 208.37 L216.16 209.90 L215.48 208.89 L214.45 207.01 L213.31 208.27 L212.31 207.00 L211.56 207.22 L210.70 207.59 L210.01 209.38 L208.85 209.11 L208.09 209.81 L206.97 208.88 L205.80 207.98 L204.88 207.60 L203.87 207.38 L202.96 207.43 L202.10 208.12 L201.04 207.39 L200.14 207.89 L199.37 206.77 L198.43 206.50 L197.36 207.53 L196.45 207.03 L195.52 207.81 L194.63 206.51 L193.55 206.03 L192.84 206.92 L192.23 207.04 L191.31 206.90 L190.16 206.61 L189.02 207.43 L188.15 207.35 L187.00 207.41 L186.15 208.11 L185.20 208.38 L184.42 207.91 L183.69 208.72 L182.57 207.15 L181.41 206.63 L180.42 207.18 L179.81 205.46 L178.88 206.13 L177.89 207.71 L176.79 206.10 L175.71 207.98 L175.02 206.41 L174.32 207.86 L173.15 207.39 L172.31 208.81 L171.23 207.62 L170.16 207.49 L169.27 208.93 L168.20 209.49 L167.21 207.81 L166.13 208.70 L165.24 208.82 L164.10 207.96 L163.37 206.78 L162.64 206.78 L161.82 208.36 L160.63 208.26 L159.76 208.26 L158.74 206.67 L157.98 206.13 L157.36 206.78 L156.45 206.41 L155.40 207.61 L154.32 207.57 L153.13 207.74 L152.40 206.93 L151.33 207.73 L150.26 207.28 L149.44 207.57 L148.43 208.90 L147.24 208.16 L146.62 208.19 L145.94 208.16 L144.77 207.05 L144.07 208.82 L143.31 207.75 L142.65 207.19 L141.76 208.01 L140.56 208.78 L139.89 207.67 L139.08 207.38 L138.39 208.13 L137.27 206.77 L136.45 206.89 L135.76 206.63 L135.13 207.34 L134.43 207.01 L133.79 206.66 L132.81 206.70 L131.97 207.29 L130.89 208.30 L129.82 208.35 L129.19 207.98 L128.22 207.82 L127.20 208.99 L126.26 207.89 L125.41 207.26 L124.65 208.70 L123.76 207.91 L123.02 207.79 L122.33 209.51 L121.20 208.19 L120.35 208.01 L119.24 209.20 L118.11 208.61 L117.24 207.37 L116.11 207.76 L115.37 206.98 L114.30 206.54 L113.63 206.79 L112.76 206.69 L111.76 207.74 L110.99 208.90 L109.79 208.81 L108.77 207.77 L107.77 208.62 L106.60 209.31 L105.73 208.65 L104.77 208.81 L103.98 209.12 L103.04 208.79 L102.04 207.09 L101.15 207.19 L100.09 207.60 L99.42 208.73 L98.65 208.05 L97.52 207.36 L96.58 206.49 L95.56 207.43 L94.78 206.47 L93.83 206.02 L92.97 207.11 L92.25 205.98 L91.61 207.27 L90.79 207.74 L89.84 206.96 L88.75 206.99 L88.08 206.47 L87.30 207.86 L86.68 207.97 L85.84 207.01 L84.67 207.62 L83.94 206.83 L82.84 207.97 L82.18 207.47 L81.32 207.05 L80.42 206.51 L79.60 207.04 L78.96 206.88 L78.27 205.71Z"/>
<path class="tk" d="M77.50 210.5v4.86"/>
<text class="k" x="77.40" y="229.70" text-anchor="middle" textLength="6.94" lengthAdjust="spacingAndGlyphs">0</text>
<path class="tk" d="M167.50 210.5v4.86"/>
<text class="k" x="167.40" y="229.70" text-anchor="middle" textLength="6.94" lengthAdjust="spacingAndGlyphs">4</text>
<path class="tk" d="M257.50 210.5v4.86"/>
<text class="k" x="257.40" y="229.70" text-anchor="middle" textLength="6.94" lengthAdjust="spacingAndGlyphs">8</text>
<path class="tk" d="M348.50 210.5v4.86"/>
<text class="k" x="346.90" y="229.70" text-anchor="middle" textLength="13.88" lengthAdjust="spacingAndGlyphs">12</text>
<path class="tk" d="M438.50 210.5v4.86"/>
<text class="k" x="436.90" y="229.70" text-anchor="middle" textLength="13.88" lengthAdjust="spacingAndGlyphs">16</text>
<path class="tk" d="M528.50 210.5v4.86"/>
<text class="k" x="528.00" y="229.70" text-anchor="middle" textLength="13.88" lengthAdjust="spacingAndGlyphs">20</text>
<path class="tk" d="M618.50 210.5v4.86"/>
<text class="k" x="617.85" y="229.70" text-anchor="middle" textLength="13.88" lengthAdjust="spacingAndGlyphs">24</text>
<path class="tk" d="M77.5 210.50h-4.86"/>
<text class="k"><tspan x="61.31" y="214.85" textLength="6.94" lengthAdjust="spacingAndGlyphs">0</tspan></text>
<path class="tk" d="M77.5 192.50h-4.86"/>
<text class="k"><tspan x="40.49" y="196.85" textLength="27.76" lengthAdjust="spacingAndGlyphs">4000</tspan></text>
<path class="tk" d="M77.5 173.50h-4.86"/>
<text class="k"><tspan x="40.49" y="177.85" textLength="27.76" lengthAdjust="spacingAndGlyphs">8000</tspan></text>
<path class="tk" d="M77.5 154.50h-4.86"/>
<text class="k"><tspan x="32.40" y="158.85" textLength="34.70" lengthAdjust="spacingAndGlyphs">12000</tspan></text>
<rect class="s" x="77.5" y="152.5" width="541.0" height="58.0"/>
<path class="g" d="M77.50 268.5V327.5"/>
<path class="g" d="M167.50 268.5V327.5"/>
<path class="g" d="M257.50 268.5V327.5"/>
<path class="g" d="M348.50 268.5V327.5"/>
<path class="g" d="M438.50 268.5V327.5"/>
<path class="g" d="M528.50 268.5V327.5"/>
<path class="g" d="M618.50 268.5V327.5"/>
<path class="g" d="M77.5 327.50H618.5"/>
<path class="g" d="M77.5 315.50H618.5"/>
<path class="g" d="M77.5 303.50H618.5"/>
<path class="g" d="M77.5 292.50H618.5"/>
<path class="g" d="M77.5 280.50H618.5"/>
<path class="g" d="M77.5 268.50H618.5"/>
<path class="d" clip-path="url(#c2)" d="M77.50 312.80 L153.00 312.80 L154.50 312.30 L155.50 312.60 L157.00 313.30 L414.00 313.30 L416.00 312.70 L419.00 313.40 L422.00 312.70 L426.00 313.30 L430.00 312.70 L434.00 313.30 L437.00 312.80 L482.00 312.80 L484.00 313.30 L486.00 312.80 L488.00 313.30 L500.00 313.30 L502.00 312.90 L506.00 313.30 L511.00 313.30 L513.00 312.90 L520.00 313.30 L524.00 312.90 L530.00 313.30 L534.00 312.90 L540.00 313.30 L545.00 312.90 L555.00 313.30 L557.00 312.70 L560.00 313.30 L563.00 312.70 L567.00 313.30 L571.00 312.70 L575.00 313.30 L580.00 312.80 L618.50 312.80"/>
<path class="tk" d="M77.50 327.5v4.86"/>
<text class="k" x="77.40" y="345.70" text-anchor="middle" textLength="6.94" lengthAdjust="spacingAndGlyphs">0</text>
<path class="tk" d="M167.50 327.5v4.86"/>
<text class="k" x="167.40" y="345.70" text-anchor="middle" textLength="6.94" lengthAdjust="spacingAndGlyphs">4</text>
<path class="tk" d="M257.50 327.5v4.86"/>
<text class="k" x="257.40" y="345.70" text-anchor="middle" textLength="6.94" lengthAdjust="spacingAndGlyphs">8</text>
<path class="tk" d="M348.50 327.5v4.86"/>
<text class="k" x="346.90" y="345.70" text-anchor="middle" textLength="13.88" lengthAdjust="spacingAndGlyphs">12</text>
<path class="tk" d="M438.50 327.5v4.86"/>
<text class="k" x="436.90" y="345.70" text-anchor="middle" textLength="13.88" lengthAdjust="spacingAndGlyphs">16</text>
<path class="tk" d="M528.50 327.5v4.86"/>
<text class="k" x="528.00" y="345.70" text-anchor="middle" textLength="13.88" lengthAdjust="spacingAndGlyphs">20</text>
<path class="tk" d="M618.50 327.5v4.86"/>
<text class="k" x="617.85" y="345.70" text-anchor="middle" textLength="13.88" lengthAdjust="spacingAndGlyphs">24</text>
<path class="tk" d="M77.5 327.50h-4.86"/>
<text class="k"><tspan x="42.52" y="332.85" textLength="9.90" lengthAdjust="spacingAndGlyphs">−</tspan><tspan x="53.22" y="331.85" textLength="13.88" lengthAdjust="spacingAndGlyphs">20</tspan></text>
<path class="tk" d="M77.5 315.50h-4.86"/>
<text class="k"><tspan x="61.31" y="319.85" textLength="6.94" lengthAdjust="spacingAndGlyphs">0</tspan></text>
<path class="tk" d="M77.5 303.50h-4.86"/>
<text class="k"><tspan x="54.37" y="307.85" textLength="13.88" lengthAdjust="spacingAndGlyphs">20</tspan></text>
<path class="tk" d="M77.5 292.50h-4.86"/>
<text class="k"><tspan x="54.37" y="295.85" textLength="13.88" lengthAdjust="spacingAndGlyphs">40</tspan></text>
<path class="tk" d="M77.5 280.50h-4.86"/>
<text class="k"><tspan x="54.37" y="284.85" textLength="13.88" lengthAdjust="spacingAndGlyphs">60</tspan></text>
<path class="tk" d="M77.5 268.50h-4.86"/>
<text class="k"><tspan x="54.37" y="272.85" textLength="13.88" lengthAdjust="spacingAndGlyphs">80</tspan></text>
<rect class="s" x="77.5" y="268.5" width="541.0" height="59.0"/>
<path class="g" d="M77.50 385.5V443.5"/>
<path class="g" d="M167.50 385.5V443.5"/>
<path class="g" d="M257.50 385.5V443.5"/>
<path class="g" d="M348.50 385.5V443.5"/>
<path class="g" d="M438.50 385.5V443.5"/>
<path class="g" d="M528.50 385.5V443.5"/>
<path class="g" d="M618.50 385.5V443.5"/>
<path class="g" d="M77.5 443.50H618.5"/>
<path class="g" d="M77.5 423.50H618.5"/>
<path class="g" d="M77.5 404.50H618.5"/>
<path class="g" d="M77.5 385.50H618.5"/>
<path class="d" clip-path="url(#c3)" d="M77.5 442.95H618.5"/>
<path class="tk" d="M77.50 443.5v4.86"/>
<text class="k" x="77.40" y="461.70" text-anchor="middle" textLength="6.94" lengthAdjust="spacingAndGlyphs">0</text>
<path class="tk" d="M167.50 443.5v4.86"/>
<text class="k" x="167.40" y="461.70" text-anchor="middle" textLength="6.94" lengthAdjust="spacingAndGlyphs">4</text>
<path class="tk" d="M257.50 443.5v4.86"/>
<text class="k" x="257.40" y="461.70" text-anchor="middle" textLength="6.94" lengthAdjust="spacingAndGlyphs">8</text>
<path class="tk" d="M348.50 443.5v4.86"/>
<text class="k" x="346.90" y="461.70" text-anchor="middle" textLength="13.88" lengthAdjust="spacingAndGlyphs">12</text>
<path class="tk" d="M438.50 443.5v4.86"/>
<text class="k" x="436.90" y="461.70" text-anchor="middle" textLength="13.88" lengthAdjust="spacingAndGlyphs">16</text>
<path class="tk" d="M528.50 443.5v4.86"/>
<text class="k" x="528.00" y="461.70" text-anchor="middle" textLength="13.88" lengthAdjust="spacingAndGlyphs">20</text>
<path class="tk" d="M618.50 443.5v4.86"/>
<text class="k" x="617.85" y="461.70" text-anchor="middle" textLength="13.88" lengthAdjust="spacingAndGlyphs">24</text>
<path class="tk" d="M77.5 443.50h-4.86"/>
<text class="k"><tspan x="61.31" y="447.85" textLength="6.94" lengthAdjust="spacingAndGlyphs">0</tspan></text>
<path class="tk" d="M77.5 423.50h-4.86"/>
<text class="k"><tspan x="61.31" y="427.85" textLength="6.94" lengthAdjust="spacingAndGlyphs">4</tspan></text>
<path class="tk" d="M77.5 404.50h-4.86"/>
<text class="k"><tspan x="61.31" y="408.85" textLength="6.94" lengthAdjust="spacingAndGlyphs">8</tspan></text>
<path class="tk" d="M77.5 385.50h-4.86"/>
<text class="k"><tspan x="53.22" y="388.85" textLength="13.88" lengthAdjust="spacingAndGlyphs">12</tspan></text>
<rect class="s" x="77.5" y="385.5" width="541.0" height="58.0"/>
<text class="t" style="font-size:17.2px"><tspan x="89.26" y="28.00" textLength="7.88" lengthAdjust="spacingAndGlyphs">S</tspan><tspan x="98.17" y="28.00" textLength="43.61" lengthAdjust="spacingAndGlyphs">t<tspan font-size="14.36" stroke="none">er</tspan>li<tspan font-size="14.36" stroke="none">ng</tspan></tspan></text>
<text class="t" style="font-size:17.2px"><tspan x="296.06" y="28.00" textLength="10.64" lengthAdjust="spacingAndGlyphs">T</tspan><tspan x="307.22" y="28.00" textLength="54.58" lengthAdjust="spacingAndGlyphs">h<tspan font-size="14.36" stroke="none">res</tspan>h<tspan font-size="14.36" stroke="none">o</tspan>ld</tspan></text>
<text class="t" style="font-size:15.7px"><tspan x="524.14" y="28.00" textLength="31.35" lengthAdjust="spacingAndGlyphs">2025</tspan><tspan x="556.95" y="32.00" textLength="6.25" lengthAdjust="spacingAndGlyphs" font-family="Liberation Serif, serif" font-size="24.5" stroke="none">/</tspan><tspan x="564.26" y="28.00" textLength="15.17" lengthAdjust="spacingAndGlyphs">10</tspan><tspan x="580.80" y="32.00" textLength="6.15" lengthAdjust="spacingAndGlyphs" font-family="Liberation Serif, serif" font-size="24.5" stroke="none">/</tspan><tspan x="588.56" y="28.00" textLength="15.44" lengthAdjust="spacingAndGlyphs">02</tspan></text>
<text class="t" style="font-size:17.2px"><tspan x="306.06" y="144.00" textLength="10.64" lengthAdjust="spacingAndGlyphs">T</tspan><tspan x="315.49" y="144.00" textLength="44.73" lengthAdjust="spacingAndGlyphs"><tspan font-size="14.36" stroke="none">r</tspan>i<tspan font-size="14.36" stroke="none">ggers</tspan></tspan><tspan x="361.10" y="148.00" textLength="5.95" lengthAdjust="spacingAndGlyphs" font-family="Liberation Serif, serif" font-size="24.5" stroke="none">/</tspan><tspan x="368.09" y="144.00" textLength="20.11" lengthAdjust="spacingAndGlyphs"><tspan font-size="14.36" stroke="none">sec</tspan></tspan></text>
<text class="t" style="font-size:17.2px"><tspan x="305.22" y="259.00" textLength="10.37" lengthAdjust="spacingAndGlyphs">T</tspan><tspan x="314.06" y="259.00" textLength="77.40" lengthAdjust="spacingAndGlyphs"><tspan font-size="14.36" stroke="none">empera</tspan>t<tspan font-size="14.36" stroke="none">ure</tspan></tspan></text>
<text class="t" style="font-size:17.2px"><tspan x="288.16" y="376.00" textLength="7.94" lengthAdjust="spacingAndGlyphs">S</tspan><tspan x="296.99" y="376.00" textLength="56.90" lengthAdjust="spacingAndGlyphs"><tspan font-size="14.36" stroke="none">a</tspan>t<tspan font-size="14.36" stroke="none">e</tspan>llit<tspan font-size="14.36" stroke="none">es</tspan> </tspan><tspan x="354.05" y="376.00" textLength="10.86" lengthAdjust="spacingAndGlyphs">T</tspan><tspan x="364.21" y="376.00" textLength="42.87" lengthAdjust="spacingAndGlyphs"><tspan font-size="14.36" stroke="none">rac</tspan>k<tspan font-size="14.36" stroke="none">e</tspan>d</tspan></text>
<text class="yl" transform="translate(28.1,0) rotate(-90)" style="font-size:14.0px"><tspan x="-79.09" y="0.00" textLength="26.96" lengthAdjust="spacingAndGlyphs">dB<tspan font-size="11.69" stroke="none">m</tspan></tspan></text>
<text class="yl" transform="translate(25.1,0) rotate(-90)" style="font-size:14.0px"><tspan x="-198.73" y="0.00" textLength="34.44" lengthAdjust="spacingAndGlyphs">C<tspan font-size="11.69" stroke="none">oun</tspan>t</tspan></text>
<text class="yl" transform="translate(35.1,0) rotate(-90)" style="font-size:14.0px"><tspan x="-305.21" y="1.90" textLength="6.14" lengthAdjust="spacingAndGlyphs" font-size="17">°</tspan><tspan x="-298.37" y="0.00" textLength="8.10" lengthAdjust="spacingAndGlyphs">C</tspan></text>
<text class="yl" transform="translate(45.1,0) rotate(-90)" style="font-size:14.0px"><tspan x="-438.09" y="0.00" textLength="45.99" lengthAdjust="spacingAndGlyphs">N<tspan font-size="11.69" stroke="none">um</tspan>b<tspan font-size="11.69" stroke="none">er</tspan></tspan></text>
</svg></body></html>
